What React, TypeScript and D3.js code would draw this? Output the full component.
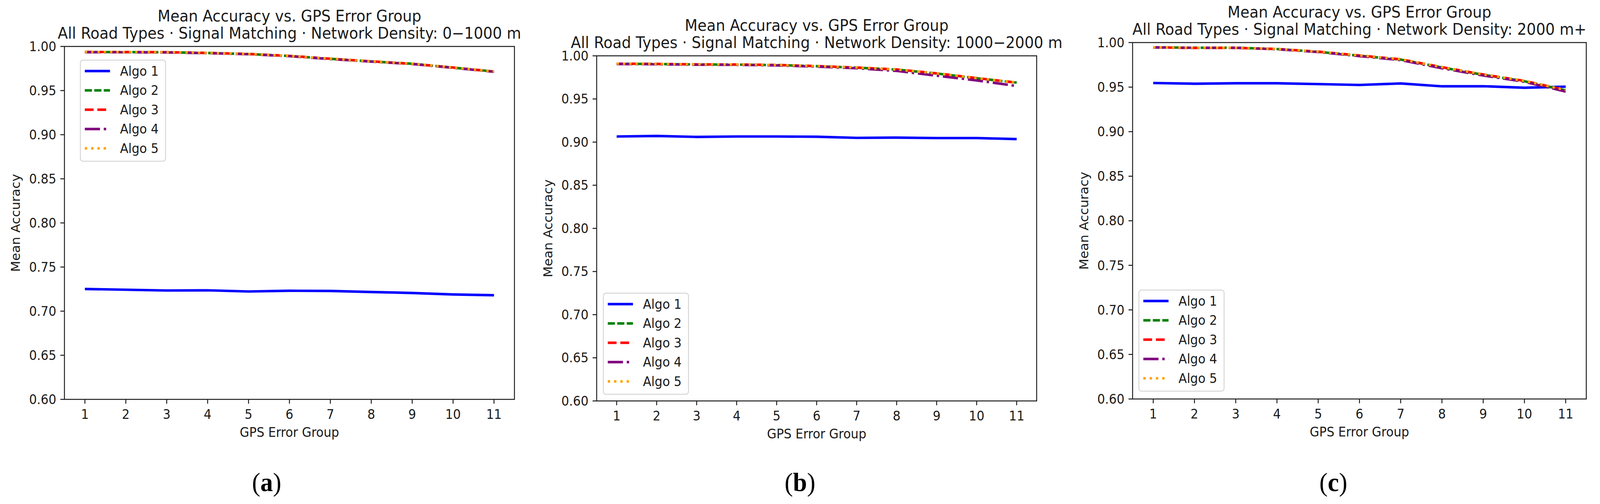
import React, { useRef, useEffect } from 'react';
import * as d3 from 'd3';

// GPS error groups on the x axis
const gpsGroups = [1, 2, 3, 4, 5, 6, 7, 8, 9, 10, 11];
const yTicks = [0.6, 0.65, 0.7, 0.75, 0.8, 0.85, 0.9, 0.95, 1.0];
const algoNames = ['Algo 1', 'Algo 2', 'Algo 3', 'Algo 4', 'Algo 5'];

// (a) Network Density: 0-1000 m
const densityA1 = [0.7251, 0.7243, 0.7234, 0.7236, 0.7223, 0.7231, 0.7229, 0.7217, 0.7206, 0.7189, 0.7180];
const densityA2 = [0.9937, 0.9936, 0.9934, 0.9926, 0.9914, 0.9892, 0.9860, 0.9830, 0.9804, 0.9760, 0.9716];
const densityA3 = [0.9938, 0.9937, 0.9935, 0.9927, 0.9915, 0.9893, 0.9861, 0.9831, 0.9803, 0.9761, 0.9715];
const densityA4 = [0.9934, 0.9934, 0.9932, 0.9924, 0.9912, 0.9890, 0.9857, 0.9828, 0.9801, 0.9758, 0.9713];
const densityA5 = [0.9938, 0.9937, 0.9935, 0.9927, 0.9915, 0.9893, 0.9861, 0.9831, 0.9804, 0.9761, 0.9716];

// (b) Network Density: 1000-2000 m
const densityB1 = [0.9065, 0.9071, 0.9060, 0.9065, 0.9065, 0.9062, 0.9049, 0.9052, 0.9047, 0.9047, 0.9035];
const densityB2 = [0.9908, 0.9905, 0.9900, 0.9898, 0.9893, 0.9880, 0.9863, 0.9840, 0.9795, 0.9740, 0.9690];
const densityB3 = [0.9909, 0.9906, 0.9901, 0.9899, 0.9894, 0.9881, 0.9864, 0.9842, 0.9797, 0.9742, 0.9689];
const densityB4 = [0.9905, 0.9902, 0.9897, 0.9895, 0.9889, 0.9875, 0.9856, 0.9825, 0.9770, 0.9715, 0.9650];
const densityB5 = [0.9909, 0.9906, 0.9901, 0.9899, 0.9894, 0.9881, 0.9864, 0.9841, 0.9797, 0.9742, 0.9691];

// (c) Network Density: 2000 m+
const densityC1 = [0.9546, 0.9538, 0.9543, 0.9543, 0.9534, 0.9524, 0.9541, 0.9509, 0.9510, 0.9493, 0.9505];
const densityC2 = [0.9946, 0.9942, 0.9942, 0.9927, 0.9896, 0.9852, 0.9809, 0.9720, 0.9638, 0.9566, 0.9462];
const densityC3 = [0.9946, 0.9939, 0.9940, 0.9928, 0.9898, 0.9855, 0.9812, 0.9724, 0.9642, 0.9570, 0.9466];
const densityC4 = [0.9945, 0.9941, 0.9941, 0.9925, 0.9893, 0.9848, 0.9803, 0.9712, 0.9630, 0.9560, 0.9450];
const densityC5 = [0.9947, 0.9942, 0.9942, 0.9928, 0.9898, 0.9855, 0.9812, 0.9724, 0.9642, 0.9570, 0.9467];

const subtitles = [
  'All Road Types \u00b7 Signal Matching \u00b7 Network Density: 0\u22121000 m',
  'All Road Types \u00b7 Signal Matching \u00b7 Network Density: 1000\u22122000 m',
  'All Road Types \u00b7 Signal Matching \u00b7 Network Density: 2000 m+',
];
const captions = ['a', 'b', 'c'];
const panelSeries = [
  [densityA1, densityA2, densityA3, densityA4, densityA5],
  [densityB1, densityB2, densityB3, densityB4, densityB5],
  [densityC1, densityC2, densityC3, densityC4, densityC5],
];

const WIDTH = 4320;
const HEIGHT = 1291;
const LW = 6.4;

const styles = [
  { color: '#0000ff', dash: 'none' },
  { color: '#008000', dash: `${3 * LW},${1 * LW}` },
  { color: '#ff0000', dash: `${3.7 * LW},${1.6 * LW}` },
  { color: '#800080', dash: `${6.4 * LW},${1.6 * LW},${1 * LW},${1.6 * LW}` },
  { color: '#ffa500', dash: `${1 * LW},${1.65 * LW}` },
];

// axes boxes and legend placement for each subfigure
const layouts = [
  { left: 174, right: 1389, top: 119, bottom: 1023, legendX: 217, legendY: 154, center: 720 },
  { left: 1611, right: 2799, top: 143, bottom: 1027, legendX: 1629, legendY: 751, center: 2160 },
  { left: 3058, right: 4283, top: 109, bottom: 1022, legendX: 3075, legendY: 743, center: 3600 },
];

const App: React.FC = () => {
  const svgRef = useRef<SVGSVGElement>(null);

  useEffect(() => {
    if (!svgRef.current) return;
    document.body.style.margin = '0';
    document.body.style.overflow = 'hidden';

    const svg = d3.select(svgRef.current);
    svg.selectAll('*').remove();

    const font = 'DejaVu Sans, sans-serif';
    const ink = '#1a1a1a';

    svg.append('rect').attr('width', WIDTH).attr('height', HEIGHT).attr('fill', 'white');

    layouts.forEach((L, pi) => {
      const x = d3.scaleLinear().domain([0.5, 11.5]).range([L.left, L.right]);
      const y = d3.scaleLinear().domain([0.6, 1.0]).range([L.bottom, L.top]);
      const g = svg.append('g');

      // series
      const line = d3.line<number>()
        .x((_, i) => x(gpsGroups[i]))
        .y(d => y(d));

      panelSeries[pi].forEach((vals, si) => {
        g.append('path')
          .datum(vals)
          .attr('d', line)
          .attr('fill', 'none')
          .attr('stroke', styles[si].color)
          .attr('stroke-width', LW)
          .attr('stroke-dasharray', styles[si].dash)
          .attr('stroke-linejoin', 'round')
          .attr('stroke-linecap', 'butt');
      });

      // spines
      g.append('rect')
        .attr('x', L.left)
        .attr('y', L.top)
        .attr('width', L.right - L.left)
        .attr('height', L.bottom - L.top)
        .attr('fill', 'none')
        .attr('stroke', ink)
        .attr('stroke-width', 2.5);

      // x ticks
      gpsGroups.forEach(v => {
        g.append('line')
          .attr('x1', x(v)).attr('x2', x(v))
          .attr('y1', L.bottom).attr('y2', L.bottom + 11)
          .attr('stroke', ink).attr('stroke-width', 2.5);
        g.append('text')
          .attr('x', x(v))
          .attr('y', L.bottom + 50)
          .attr('text-anchor', 'middle')
          .attr('font-family', font)
          .attr('font-size', 33)
          .attr('fill', ink)
          .text(String(v));
      });

      // y ticks
      yTicks.forEach(v => {
        g.append('line')
          .attr('x1', L.left - 11).attr('x2', L.left)
          .attr('y1', y(v)).attr('y2', y(v))
          .attr('stroke', ink).attr('stroke-width', 2.5);
        g.append('text')
          .attr('x', L.left - 22)
          .attr('y', y(v))
          .attr('dy', '0.36em')
          .attr('text-anchor', 'end')
          .attr('font-family', font)
          .attr('font-size', 33)
          .attr('fill', ink)
          .text(v.toFixed(2));
      });

      // axis labels
      g.append('text')
        .attr('x', (L.left + L.right) / 2)
        .attr('y', L.bottom + 96)
        .attr('text-anchor', 'middle')
        .attr('font-family', font)
        .attr('font-size', 33)
        .attr('fill', ink)
        .text('GPS Error Group');

      const midY = (L.top + L.bottom) / 2;
      g.append('text')
        .attr('transform', `translate(${L.left - 120},${midY}) rotate(-90)`)
        .attr('text-anchor', 'middle')
        .attr('font-family', font)
        .attr('font-size', 33)
        .attr('fill', ink)
        .text('Mean Accuracy');

      // title
      const cx = (L.left + L.right) / 2;
      g.append('text')
        .attr('x', cx)
        .attr('y', L.top - 64)
        .attr('text-anchor', 'middle')
        .attr('font-family', font)
        .attr('font-size', 40)
        .attr('fill', ink)
        .text('Mean Accuracy vs. GPS Error Group');
      g.append('text')
        .attr('x', cx)
        .attr('y', L.top - 20)
        .attr('text-anchor', 'middle')
        .attr('font-family', font)
        .attr('font-size', 40)
        .attr('fill', ink)
        .text(subtitles[pi]);

      // legend
      const lg = g.append('g').attr('transform', `translate(${L.legendX},${L.legendY})`);
      lg.append('rect')
        .attr('width', 230)
        .attr('height', 259)
        .attr('rx', 7)
        .attr('fill', 'white')
        .attr('fill-opacity', 0.8)
        .attr('stroke', '#d6d6d6')
        .attr('stroke-width', 2.5);
      algoNames.forEach((name, si) => {
        const ly = 28 + si * 49.5;
        lg.append('line')
          .attr('x1', 12).attr('x2', 80)
          .attr('y1', ly).attr('y2', ly)
          .attr('stroke', styles[si].color)
          .attr('stroke-width', LW)
          .attr('stroke-dasharray', styles[si].dash);
        lg.append('text')
          .attr('x', 107)
          .attr('y', ly)
          .attr('dy', '0.36em')
          .attr('font-family', font)
          .attr('font-size', 33)
          .attr('fill', ink)
          .text(name);
      });

      // subfigure caption
      const cap = svg.append('text')
        .attr('x', L.center)
        .attr('y', 1258)
        .attr('text-anchor', 'middle')
        .attr('font-family', 'Liberation Serif, serif')
        .attr('font-size', 68)
        .attr('fill', '#000');
      cap.append('tspan').text('(');
      cap.append('tspan').attr('font-weight', 700).text(captions[pi]);
      cap.append('tspan').text(')');
    });
  }, []);

  return (
    <svg
      ref={svgRef}
      viewBox={`0 0 ${WIDTH} ${HEIGHT}`}
      preserveAspectRatio="none"
      style={{ position: 'absolute', left: 0, top: 0, width: '100vw', height: '100vh', display: 'block' }}
    />
  );
};

export default App;
